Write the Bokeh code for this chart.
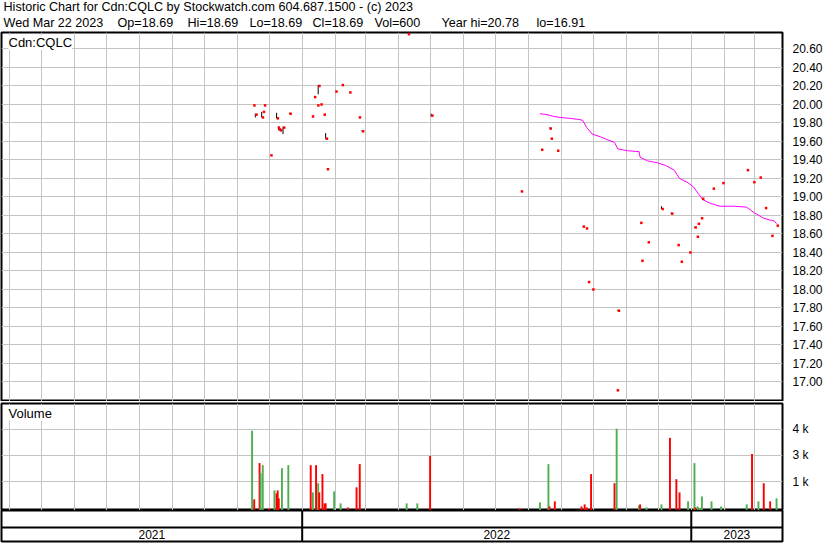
import pandas as pd
from bokeh.plotting import figure
from bokeh.layouts import column
from bokeh.models import Range1d, FixedTicker, Label, Span, ColumnDataSource, NumeralTickFormatter, Grid
from bokeh.embed import file_html
from bokeh.resources import INLINE
from bokeh.core.properties import value

# ---------------- data ----------------
header_line1 = "Historic Chart for Cdn:CQLC by Stockwatch.com 604.687.1500 - (c) 2023"
header_line2_parts = ["Wed Mar 22 2023", "Op=18.69", "Hi=18.69", "Lo=18.69", "Cl=18.69",
                      "Vol=600", "Year hi=20.78", "lo=16.91"]
symbol_label = "Cdn:CQLC"
volume_label = "Volume"

date_start = "2021-03-24 22:00"
date_end = "2023-03-27 14:00"
years = [2021, 2022, 2023]

price_dates = ["2021-11-16", "2021-11-18", "2021-11-24", "2021-11-25", "2021-11-26", "2021-12-02",
               "2021-12-08", "2021-12-09", "2021-12-10", "2021-12-11", "2021-12-14", "2021-12-20",
               "2022-01-10", "2022-01-12", "2022-01-15", "2022-01-16", "2022-01-18", "2022-01-21",
               "2022-01-23", "2022-01-24", "2022-02-01", "2022-02-07", "2022-02-14", "2022-02-23",
               "2022-02-26",
               "2022-04-10", "2022-05-02", "2022-07-25", "2022-08-13", "2022-08-21", "2022-08-22",
               "2022-08-28", "2022-09-21", "2022-09-24", "2022-09-26", "2022-09-30", "2022-10-23",
               "2022-10-24", "2022-11-14", "2022-11-15", "2022-11-21", "2022-12-04", "2022-12-13",
               "2022-12-19", "2022-12-22", "2022-12-30",
               "2023-01-04", "2023-01-06", "2023-01-07", "2023-01-10", "2023-01-11", "2023-01-21",
               "2023-01-30", "2023-02-22", "2023-02-28", "2023-03-06", "2023-03-11", "2023-03-17",
               "2023-03-22"]
price_close = [19.99, 19.89, 19.86, 19.92, 19.99, 19.45, 19.85, 19.75, 19.73, 19.72, 19.75, 19.90,
               19.87, 20.08, 19.99, 20.20, 20.00, 19.89, 19.63, 19.30, 20.14, 20.21, 20.13, 19.86, 19.71,
               20.76, 19.88, 19.06, 19.51, 19.74, 19.63, 19.50, 18.68, 18.66, 18.08, 18.00, 16.91, 17.77,
               18.72, 18.31, 18.51, 18.87, 18.82, 18.48, 18.30, 18.40,
               18.67, 18.57, 18.71, 18.77, 18.98, 19.09, 19.15, 19.29, 19.16, 19.21, 18.88, 18.58, 18.69]
price_high = [19.99, 19.90, 19.92, 19.92, 19.99, 19.45, 19.91, 19.75, 19.76, 19.72, 19.76, 19.91,
              19.87, 20.08, 19.99, 20.21, 20.00, 19.89, 19.69, 19.30, 20.14, 20.21, 20.13, 19.86, 19.72,
              20.76, 19.90, 19.06, 19.51, 19.75, 19.63, 19.50, 18.68, 18.66, 18.08, 18.00, 16.91, 17.78,
              18.72, 18.31, 18.51, 18.90, 18.83, 18.48, 18.30, 18.40,
              18.68, 18.57, 18.71, 18.77, 18.98, 19.09, 19.15, 19.29, 19.16, 19.21, 18.88, 18.58, 18.69]
price_low = [19.99, 19.86, 19.86, 19.92, 19.99, 19.45, 19.85, 19.75, 19.72, 19.72, 19.68, 19.90,
             19.87, 20.08, 19.99, 20.11, 20.00, 19.89, 19.63, 19.30, 20.14, 20.21, 20.13, 19.86, 19.71,
             20.76, 19.87, 19.06, 19.51, 19.74, 19.63, 19.50, 18.68, 18.66, 18.08, 18.00, 16.91, 17.77,
             18.72, 18.31, 18.51, 18.87, 18.82, 18.48, 18.30, 18.40,
             18.67, 18.57, 18.71, 18.77, 18.98, 19.09, 19.15, 19.29, 19.16, 19.21, 18.88, 18.58, 18.69]

ma_dates = ["2022-08-12", "2022-08-19", "2022-08-25", "2022-08-31", "2022-09-09", "2022-09-16",
            "2022-09-21", "2022-09-25", "2022-09-30", "2022-10-08", "2022-10-14", "2022-10-21",
            "2022-10-24", "2022-11-02", "2022-11-13", "2022-11-14", "2022-11-21", "2022-11-30",
            "2022-12-08", "2022-12-16", "2022-12-21", "2022-12-28", "2023-01-03", "2023-01-08",
            "2023-01-12", "2023-01-19", "2023-01-28", "2023-02-10", "2023-02-22", "2023-03-01",
            "2023-03-10", "2023-03-16", "2023-03-20", "2023-03-22"]
ma_values = [19.90, 19.89, 19.87, 19.86, 19.85, 19.84, 19.83, 19.75, 19.68, 19.65, 19.62, 19.59,
             19.52, 19.50, 19.49, 19.43, 19.39, 19.37, 19.34, 19.29, 19.20, 19.16, 19.11, 19.03,
             18.97, 18.93, 18.90, 18.90, 18.89, 18.83, 18.77, 18.75, 18.74, 18.71]

vol_dates = ["2021-11-15", "2021-11-17", "2021-11-22", "2021-11-23", "2021-11-25", "2021-12-01",
             "2021-12-06", "2021-12-08", "2021-12-09", "2021-12-10", "2021-12-13", "2021-12-19",
             "2022-01-09", "2022-01-11", "2022-01-14", "2022-01-16", "2022-01-17", "2022-01-20",
             "2022-01-22", "2022-01-23", "2022-01-31", "2022-02-06", "2022-02-13", "2022-02-21",
             "2022-02-24",
             "2022-04-09", "2022-04-19", "2022-05-01", "2022-07-24", "2022-08-12", "2022-08-20",
             "2022-08-21", "2022-08-26", "2022-09-20", "2022-09-23", "2022-09-25", "2022-09-29",
             "2022-10-21", "2022-10-23", "2022-11-13", "2022-11-14", "2022-11-20", "2022-12-04",
             "2022-12-12", "2022-12-18", "2022-12-21", "2022-12-29",
             "2023-01-04", "2023-01-05", "2023-01-07", "2023-01-09", "2023-01-11", "2023-01-20",
             "2023-01-29", "2023-02-22", "2023-02-27", "2023-03-05", "2023-03-10", "2023-03-16",
             "2023-03-22"]
vol_values = [3920, 550, 2330, 1830, 2230, 100, 990, 840, 990, 600, 2080, 2230,
              2230, 890, 2230, 1340, 890, 1790, 350, 350, 940, 350, 150, 1140, 2280,
              350, 350, 2680, 100, 400, 2280, 200, 450, 200, 300, 150, 1790, 1340, 4020, 250, 300,
              150, 300, 3570, 1540, 890, 450,
              2330, 150, 200, 100, 690, 450, 200, 300, 2780, 450, 1340, 450, 600]
vol_dir = ["up", "down", "down", "up", "up", "down", "up", "down", "down", "down", "up", "up",
           "down", "up", "down", "up", "down", "down", "down", "down", "up", "up", "down", "down", "down",
           "up", "up", "down", "down", "up", "up", "down", "down", "down", "down", "down", "down",
           "down", "up", "up", "down", "up", "up", "down", "down", "down", "up",
           "up", "down", "up", "up", "up", "up", "up", "up", "down", "up", "down", "down", "up"]

price_ticks = [17.00, 17.20, 17.40, 17.60, 17.80, 18.00, 18.20, 18.40, 18.60, 18.80,
               19.00, 19.20, 19.40, 19.60, 19.80, 20.00, 20.20, 20.40, 20.60]
price_range = (16.789, 20.778)
volume_ticks = [1420, 2710, 4000]
volume_tick_labels = ["1 k", "3 k", "4 k"]
volume_range = (0, 5260)

# ---------------- styling / layout ----------------
FONT = "Liberation Sans"
W = 830
AXW = 48
GRID = "#c4c4c4"
RED = "#ff0000"
GREEN = "#4caf50"
DAY_MS = 86400000.0
HDR_H, PRICE_H, VOL_H, BAND_H = 31, 370, 109, 33
line2_x = [2, 116, 186, 248, 311, 373, 440, 535]

x_start = pd.Timestamp(date_start)
x_end = pd.Timestamp(date_end)
xr = Range1d(start=x_start, end=x_end)

month_ms = [float(t.value // 10**6) for t in pd.date_range("2021-04-01", "2023-03-01", freq="MS")]


def base_fig(height, y_range, yticks, mb_top, mb_bottom):
    p = figure(width=W, height=height, x_range=xr, y_range=y_range,
               x_axis_type="datetime", x_axis_location=None, y_axis_location="right",
               output_backend="svg", toolbar_location=None,
               min_border_left=1, min_border_right=AXW,
               min_border_top=mb_top, min_border_bottom=mb_bottom)
    p.background_fill_color = "white"
    p.border_fill_color = "white"
    p.outline_line_color = "black"
    p.outline_line_width = 2
    for g in p.grid:
        g.visible = False
    p.add_layout(Grid(dimension=0, ticker=FixedTicker(ticks=month_ms), level="glyph",
                      grid_line_color=GRID, grid_line_width=1))
    p.add_layout(Grid(dimension=1, ticker=FixedTicker(ticks=yticks), level="glyph",
                      grid_line_color=GRID, grid_line_width=1))
    ax = p.yaxis[0]
    ax.ticker = FixedTicker(ticks=yticks)
    ax.axis_line_color = None
    ax.major_tick_line_color = None
    ax.minor_tick_line_color = None
    ax.major_label_standoff = 4
    ax.major_label_text_font = FONT
    ax.major_label_text_font_size = "12px"
    ax.major_label_text_color = "black"
    return p


# header strip
hdr = figure(width=W, height=HDR_H, output_backend="svg", toolbar_location=None,
             x_axis_location=None, y_axis_location=None, min_border=0,
             x_range=Range1d(0, 1), y_range=Range1d(0, 1))
hdr.outline_line_color = None
hdr.grid.visible = False
hdr.background_fill_color = "white"
hdr.border_fill_color = "white"
hdr.add_layout(Label(x=2, y=HDR_H - 6.6, x_units="screen", y_units="screen", text=header_line1,
                     text_font=FONT, text_font_size="12.6px", text_color="black",
                     text_baseline="middle"))
for txt, xx in zip(header_line2_parts, line2_x):
    hdr.add_layout(Label(x=xx, y=HDR_H - 22.2, x_units="screen", y_units="screen", text=txt,
                         text_font=FONT, text_font_size="12.6px", text_color="black",
                         text_baseline="middle"))

# price panel
pp = base_fig(PRICE_H, Range1d(*price_range), price_ticks, 1, 0)
pp.yaxis[0].formatter = NumeralTickFormatter(format="0.00")
frame_h = PRICE_H - 1

pd_dates = pd.to_datetime(price_dates)
psrc = ColumnDataSource(dict(x=pd_dates, xc=pd_dates + pd.Timedelta(hours=28),
                             close=price_close, high=price_high, low=price_low))
r1 = pp.line(pd.to_datetime(ma_dates), ma_values, line_color="#ff00ff", line_width=1)
r2 = pp.segment(x0="x", y0="low", x1="x", y1="high", source=psrc, line_color="black", line_width=1)
r3 = pp.rect(x="xc", y="close", width=2.5, height=2.5, width_units="screen", height_units="screen",
             source=psrc, fill_color=RED, line_color=None)
for r in (r1, r2, r3):
    r.level = "guide"
pp.add_layout(Label(x=7, y=frame_h - 2.5, x_units="screen", y_units="screen", text=symbol_label,
                    text_font=FONT, text_font_size="13px", text_color="black", text_baseline="top",
                    background_fill_color="white"))

# volume panel
vp = base_fig(VOL_H, Range1d(*volume_range), volume_ticks, 2, 0)
vp.yaxis[0].major_label_overrides = {t: l for t, l in zip(volume_ticks, volume_tick_labels)}
vsrc = ColumnDataSource(dict(x=pd.to_datetime(vol_dates), top=vol_values,
                             color=[GREEN if d == "up" else RED for d in vol_dir]))
rv = vp.vbar(x="x", top="top", bottom=0, width=1.8 * DAY_MS, source=vsrc,
             fill_color="color", line_color=None)
rv.level = "guide"
vp.add_layout(Label(x=7, y=VOL_H - 2 - 2, x_units="screen", y_units="screen", text=volume_label,
                    text_font=FONT, text_font_size="13px", text_color="black", text_baseline="top",
                    background_fill_color="white"))

# time band
bp = figure(width=W, height=BAND_H, x_range=xr, y_range=Range1d(0, 1), x_axis_type="datetime",
            x_axis_location=None, y_axis_location=None, output_backend="svg",
            toolbar_location=None, min_border_left=1, min_border_right=AXW,
            min_border_top=0, min_border_bottom=2)
bp.grid.visible = False
bp.background_fill_color = "white"
bp.border_fill_color = "white"
bp.outline_line_color = "black"
bp.outline_line_width = 2
bp.add_layout(Span(location=0.45, dimension="width", line_color="black", line_width=2))
year_starts = [pd.Timestamp(f"{y}-01-01") for y in years]
seps = [t for t in year_starts if x_start < t < x_end]
bp.segment(x0=seps, y0=[0] * len(seps), x1=seps, y1=[1] * len(seps), line_color="black", line_width=2)
centers = []
for y in years:
    s = max(pd.Timestamp(f"{y}-01-01"), x_start)
    e = min(pd.Timestamp(f"{y + 1}-01-01"), x_end)
    centers.append(s + (e - s) / 2)
bp.text(x=centers, y=[0.22] * len(centers), text=[str(y) for y in years], text_align="center",
        text_baseline="middle", text_font=value(FONT), text_font_size="12px", text_color="black")

layout = column(hdr, pp, vp, bp, spacing=0)
open("out.html", "w").write(file_html(layout, INLINE))
